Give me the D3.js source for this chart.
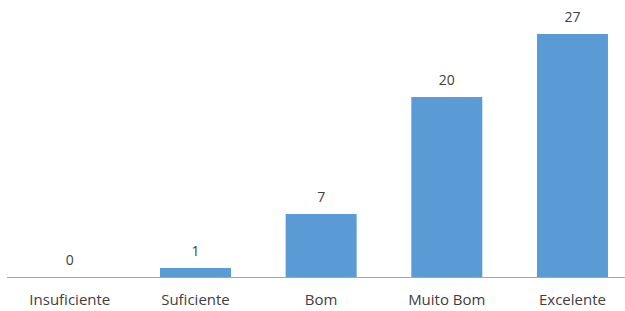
<!DOCTYPE html>
<html>
<head>
<meta charset="utf-8">
<script src="https://cdn.jsdelivr.net/npm/d3@7"></script>
<style>
  body { margin: 0; background: #fff; }
  text { font-family: "Open Sans", sans-serif; fill: #404040; }
</style>
</head>
<body>
<div id="chart"></div>
<script>
const categories = ["Insuficiente", "Suficiente", "Bom", "Muito Bom", "Excelente"];
const values = [0, 1, 7, 20, 27];

const width = 625, height = 311;
const baseY = 277;

const svg = d3.select("#chart").append("svg")
    .attr("width", width).attr("height", height);

const x = d3.scaleBand()
    .domain(categories)
    .range([7, 635.3])
    .paddingInner(0.435)
    .paddingOuter(0.2175);

const y = d3.scaleLinear()
    .domain([0, 27])
    .range([baseY, 34]);

// bars
svg.selectAll("rect.bar").data(values).enter().append("rect")
    .attr("class", "bar")
    .attr("x", (d, i) => x(categories[i]))
    .attr("y", d => y(d))
    .attr("width", x.bandwidth())
    .attr("height", d => baseY - y(d))
    .attr("fill", "#5b9bd5");

// baseline
svg.append("line")
    .attr("x1", 7).attr("x2", width)
    .attr("y1", baseY + 0.5).attr("y2", baseY + 0.5)
    .attr("stroke", "#a6a6a6")
    .attr("stroke-width", 1);

// value labels
svg.selectAll("text.val").data(values).enter().append("text")
    .attr("class", "val")
    .attr("x", (d, i) => x(categories[i]) + x.bandwidth() / 2)
    .attr("y", d => y(d) - 12)
    .attr("text-anchor", "middle")
    .attr("font-size", "14px")
    .text(d => d);

// category labels
svg.selectAll("text.cat").data(categories).enter().append("text")
    .attr("class", "cat")
    .attr("x", d => x(d) + x.bandwidth() / 2)
    .attr("y", 305)
    .attr("text-anchor", "middle")
    .attr("font-size", "15px")
    .text(d => d);
</script>
</body>
</html>
